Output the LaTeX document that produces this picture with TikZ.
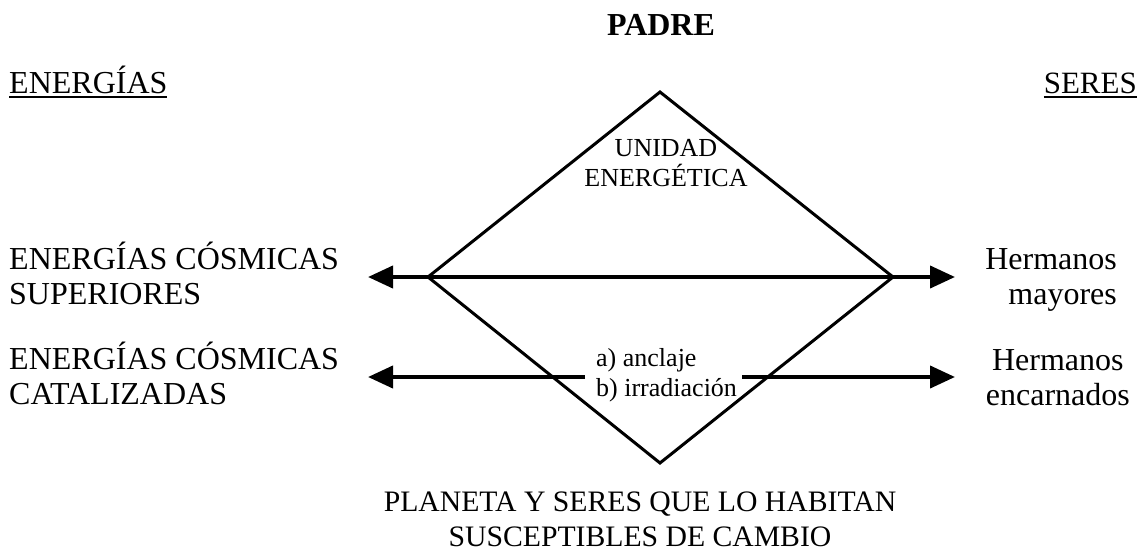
\documentclass[tikz,border=0pt]{standalone}
\usepackage{fontspec}
\setmainfont{Liberation Serif}
\usetikzlibrary{arrows.meta}
\newcommand{\ulin}[1]{\setbox0\hbox{#1}\rlap{\rule[-5pt]{\wd0}{2pt}}\box0}
\tikzset{lbl/.style={font=\fontsize{32}{35}\selectfont,inner sep=0pt},
  lblsm/.style={font=\fontsize{26}{30}\selectfont,inner sep=0pt}}

\begin{document}
\begin{tikzpicture}[x=1pt,y=-1pt,>={Triangle[length=25pt,width=22pt]}]
\useasboundingbox (0,0) rectangle (1144,552);
% rombo
\coordinate (top) at (660,92);
\coordinate (lv) at (428,277);
\coordinate (bot) at (660,463);
\coordinate (rv) at (893,277);
\draw[line width=3pt,line join=miter] (top) -- (lv) -- (bot) -- (rv) -- cycle;
% flechas
\coordinate (l1) at (368,277);
\coordinate (r1) at (955,277);
\coordinate (l2) at (368,377);
\coordinate (r2) at (955,377);
\coordinate (gl) at (585,377);
\coordinate (gr) at (742,377);
\draw[line width=4pt,<->] (l1) -- (r1);
\draw[line width=4pt,->] (gl) -- (l2);
\draw[line width=4pt,->] (gr) -- (r2);
% textos
\node[lbl,anchor=base] (padre) at (661,35) {\bfseries PADRE};
\node[lbl,anchor=base west] (energias) at (9,93) {\ulin{ENERGÍAS}};
\node[lbl,font=\fontsize{31}{35}\selectfont,anchor=base east] (seres) at (1137,93) {\ulin{SERES}};
\node[lblsm,align=center] (unidad) at (666,163) {UNIDAD\\ENERGÉTICA};
\node[lbl,align=left,anchor=west] (ecsup) at (9,273) {ENERGÍAS CÓSMICAS\\SUPERIORES};
\node[lbl,align=left,anchor=west] (eccat) at (9,373) {ENERGÍAS CÓSMICAS\\CATALIZADAS};
\node[lbl,align=right,anchor=east] (hmay) at (1117,280) {Hermanos\\mayores};
\node[lbl,align=center,anchor=east] (henc) at (1130,378) {Hermanos\\encarnados};
\node[lblsm,align=left,anchor=west] (ab) at (596,375) {a) anclaje\\b) irradiación};
\node[lbl,font=\fontsize{29.7}{35}\selectfont,align=center] (planeta) at (640,519) {PLANETA Y SERES QUE LO HABITAN\\SUSCEPTIBLES DE CAMBIO};
\end{tikzpicture}
\end{document}
